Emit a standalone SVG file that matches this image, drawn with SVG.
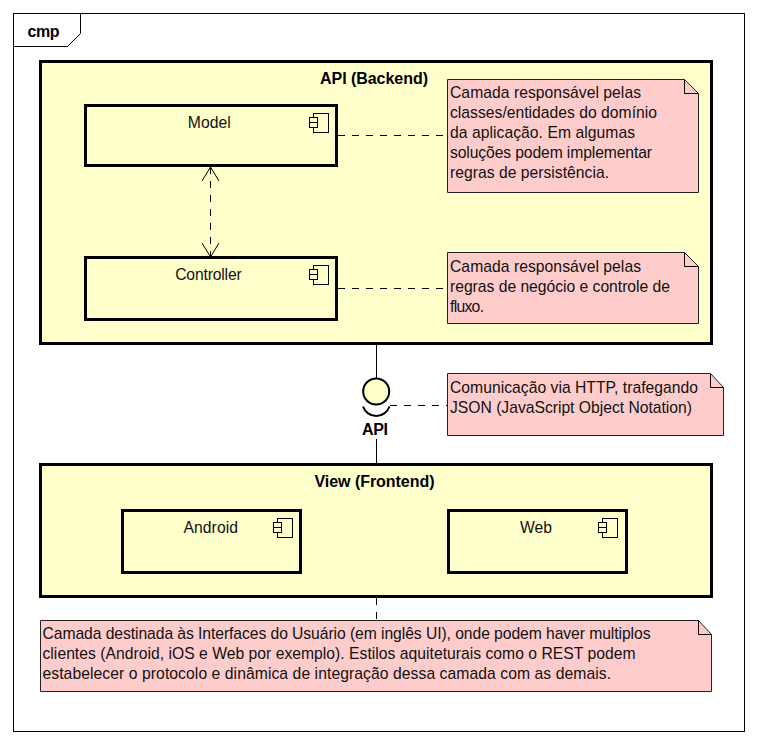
<svg xmlns="http://www.w3.org/2000/svg" width="757" height="744" viewBox="0 0 757 744">
<defs>
<style>
text{font-family:"Liberation Sans",Arial,sans-serif;font-size:15.7px;fill:#111}
.b{font-weight:bold;fill:#000;font-size:16px}
.box{fill:#ffffcc;stroke:#000;stroke-width:3}
.note{fill:#ffcccc;stroke:#222;stroke-width:1}
.fold{fill:none;stroke:#000;stroke-width:1}
.icon{fill:#ffffcc;stroke:#000;stroke-width:1}
.c{fill:none;stroke:#000;stroke-width:1}
.d{stroke-dasharray:7 7}
</style>
<g id="ic"><rect x="-15.5" y="0" width="15" height="19" class="icon"/><rect x="-19.5" y="4" width="8" height="5" class="icon"/><rect x="-19.5" y="9" width="8" height="5" class="icon"/></g>
<marker id="ah" markerUnits="userSpaceOnUse" markerWidth="20" markerHeight="20" refX="16" refY="10" orient="auto-start-reverse"><path d="M2,1.500 L16,10 L2,18.500" fill="none" stroke="#000"/></marker>
</defs>
<rect x="0" y="0" width="757" height="744" fill="#fff"/>
<g id="frame">
<rect x="13.500" y="13.500" width="731" height="718" fill="#fff" stroke="#000"/>
<path d="M13.500,46.500H67.500L80.500,33.500V13.500" fill="#fff" stroke="#000"/>
<text x="27.500" y="37" class="b" textLength="32">cmp</text>
</g>
<g id="api-backend">
<rect x="40.500" y="61.500" width="671" height="282" class="box"/>
<text x="320" y="84" class="b" textLength="108">API (Backend)</text>
</g>
<g id="view-frontend">
<rect x="40.500" y="464.500" width="671" height="132" class="box"/>
<text x="314.500" y="487" class="b" textLength="120">View (Frontend)</text>
</g>
<g id="connectors">
<path d="M210.500,167V257" class="c d" marker-start="url(#ah)" marker-end="url(#ah)"/>
<path d="M338,135.500H448" class="c d"/>
<path d="M338,288.500H448" class="c d"/>
<path d="M376.500,344V378" class="c"/>
<path d="M376.500,439V464" class="c"/>
<path d="M390,405.500H447" class="c d"/>
<path d="M376.500,598V620" class="c d"/>
</g>
<g id="model">
<rect x="85.500" y="105.500" width="251" height="60" class="box"/>
<text x="187.800" y="128" textLength="43">Model</text>
<use href="#ic" x="329" y="113.500"/>
</g>
<g id="controller">
<rect x="85.500" y="257.500" width="251" height="62" class="box"/>
<text x="175.200" y="280" textLength="66.500">Controller</text>
<use href="#ic" x="329" y="265.500"/>
</g>
<g id="android">
<rect x="122.500" y="510.500" width="178" height="62" class="box"/>
<text x="183.500" y="533" textLength="54.500">Android</text>
<use href="#ic" x="293" y="518.500"/>
</g>
<g id="web">
<rect x="448.500" y="510.500" width="178" height="62" class="box"/>
<text x="520" y="533" textLength="32">Web</text>
<use href="#ic" x="618" y="518.500"/>
</g>
<g id="interface-api">
<circle cx="376.200" cy="391.500" r="13" fill="#ffffcc" stroke="#000" stroke-width="2"/>
<path d="M363,406.500A14,14 0 0 0 389.500,406.500" fill="none" stroke="#000" stroke-width="2"/>
<text x="362" y="435" class="b" textLength="26">API</text>
</g>
<g id="note-model">
<path d="M447.500,79.500H684.500L698.500,93.500V192.500H447.500Z" class="note"/>
<path d="M684.500,79.500V93.500H698.500" class="fold"/>
<text x="450" y="98" textLength="191">Camada responsável pelas</text>
<text x="450" y="118" textLength="207">classes/entidades do domínio</text>
<text x="450" y="138" textLength="185">da aplicação. Em algumas</text>
<text x="450" y="158" textLength="202">soluções podem implementar</text>
<text x="450" y="178" textLength="159">regras de persistência.</text>
</g>
<g id="note-controller">
<path d="M447.500,252.500H684.500L698.500,266.500V323.500H447.500Z" class="note"/>
<path d="M684.500,252.500V266.500H698.500" class="fold"/>
<text x="450" y="272" textLength="191">Camada responsável pelas</text>
<text x="450" y="292" textLength="220">regras de negócio e controle de</text>
<text x="450" y="312" textLength="34">fluxo.</text>
</g>
<g id="note-api">
<path d="M447.500,373.500H710.500L723.500,387.500V435.500H447.500Z" class="note"/>
<path d="M710.500,373.500V387.500H723.500" class="fold"/>
<text x="450" y="393" textLength="248">Comunicação via HTTP, trafegando</text>
<text x="450" y="413" textLength="242">JSON (JavaScript Object Notation)</text>
</g>
<g id="note-view">
<path d="M40.500,620.500H698.500L711.500,634.500V691.500H40.500Z" class="note"/>
<path d="M698.500,620.500V634.500H711.500" class="fold"/>
<text x="42.500" y="639" textLength="608">Camada destinada às Interfaces do Usuário (em inglês UI), onde podem haver multiplos</text>
<text x="42.500" y="659" textLength="593">clientes (Android, iOS e Web por exemplo). Estilos aquiteturais como o REST podem</text>
<text x="42.500" y="679" textLength="568.500">estabelecer o protocolo e dinâmica de integração dessa camada com as demais.</text>
</g>
</svg>
